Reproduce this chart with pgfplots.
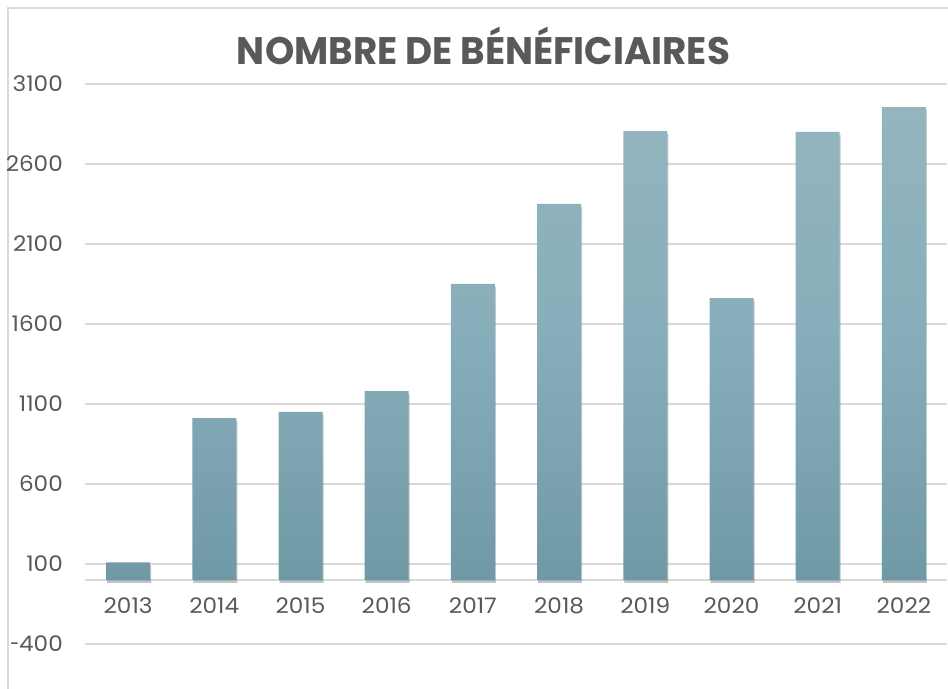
\documentclass[border=0pt]{standalone}
\usepackage{graphicx}
\usepackage{pgfplots}
\pgfplotsset{compat=1.18}
\usepackage{fontspec}
\setmainfont{Poppins}
\newfontfamily\tickfont{Poppins}[FakeStretch=1.08]
\usetikzlibrary{shadows}
\definecolor{txt}{HTML}{595959}
\definecolor{grd}{HTML}{D9D9D9}
\definecolor{bartop}{HTML}{94B5BE}
\definecolor{barmid}{HTML}{86AEBA}
\definecolor{barbot}{HTML}{7099A6}
\begin{document}
\begin{tikzpicture}
\useasboundingbox (0bp,0bp) rectangle (948bp,689bp);
\fill[white] (0bp,0bp) rectangle (948bp,689bp);
\draw[grd, line width=1.5bp] (8bp,0bp) -- (8bp,681bp) -- (948bp,681bp);
\begin{axis}[
  at={(85bp,45bp)}, anchor=south west, scale only axis,
  width=862bp, height=560bp,
  xmin=-0.5, xmax=9.5, ymin=-400, ymax=3100,
  axis line style={draw=none}, tick style={draw=none},
  ytick={-400,100,600,1100,1600,2100,2600,3100},
  yticklabels={\mbox{\scalebox{0.7}[1]{-}400},\mbox{100},\mbox{600},\mbox{1100},\mbox{1600},\mbox{2100},\mbox{2600},\mbox{3100}},
  extra y ticks={0}, extra y tick labels={},
  extra y tick style={grid=major},
  ymajorgrids, grid style={grd, line width=1.5bp},
  xtick={0,1,2,3,4,5,6,7,8,9},
  xticklabels={2013,2014,2015,2016,2017,2018,2019,2020,2021,2022},
  ticklabel style={font=\tickfont\fontsize{21.5}{21.5}\selectfont, text=txt},
  yticklabel style={anchor=east, inner sep=0pt, xshift=-22bp},
  xticklabel style={anchor=center, inner sep=0pt, yshift=38.5bp},
  clip=false,
]
\addplot[ybar, bar width=44bp, draw=none,
  top color=bartop, bottom color=barbot, middle color=barmid,
  drop shadow={shadow xshift=1bp, shadow yshift=-3bp, opacity=0.18, fill=black}]
  coordinates {(0,110) (1,1012) (2,1050) (3,1181) (4,1850) (5,2350) (6,2806) (7,1762) (8,2800) (9,2956)};
\end{axis}
\node[anchor=base, text=txt, inner sep=0pt] at (483.5bp,624bp)
  {\resizebox{493bp}{\height}{\fontsize{38.5}{40}\selectfont\bfseries NOMBRE DE BÉNÉFICIAIRES}};
\end{tikzpicture}
\end{document}
